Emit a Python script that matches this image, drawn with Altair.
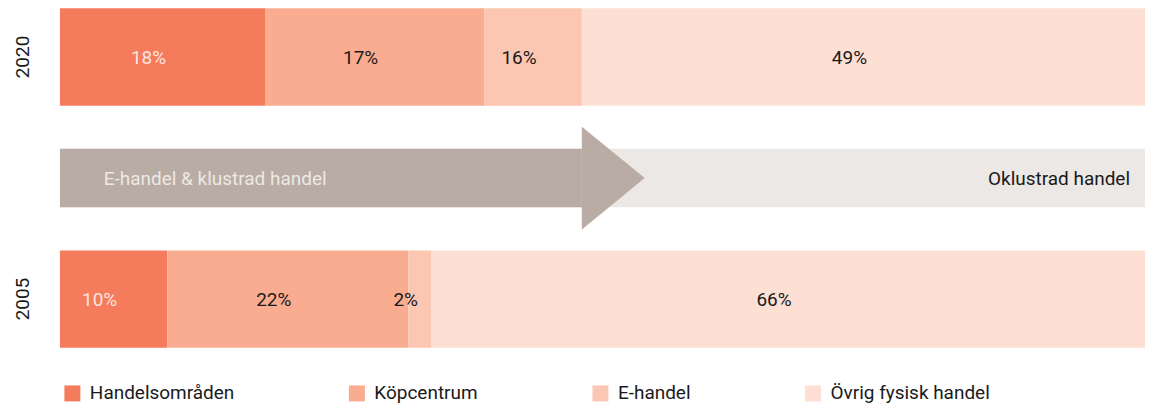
import altair as alt
import pandas as pd

# ---- data ----
years = ["2020", "2005"]
categories = ["Handelsområden", "Köpcentrum", "E-handel", "Övrig fysisk handel"]
share_2020 = [18.9, 20.2, 9.0, 51.9]      # drawn bar lengths (% of full width)
share_2005 = [9.9, 22.2, 2.1, 65.8]
labels_2020 = ["18%", "17%", "16%", "49%"]
labels_2005 = ["10%", "22%", "2%", "66%"]
colors = ["#F47B5C", "#F9AC8F", "#FBC6B2", "#FDE0D3"]

arrow_left_text = "E-handel & klustrad handel"
arrow_right_text = "Oklustrad handel"

row_order = ["2020", "mid", "2005"]

FONT = "Roboto"
DARK = "#1a1a1a"
FS = 19

# ---- tables ----
rows = []
for yr, vals, labs in [("2020", share_2020, labels_2020), ("2005", share_2005, labels_2005)]:
    start = 0.0
    for cat, v, lab in zip(categories, vals, labs):
        rows.append({"row": yr, "category": cat, "start": start, "end": start + v,
                     "mid": start + v / 2, "label": lab})
        start += v
bars_df = pd.DataFrame(rows)

arrow_end = sum(share_2020[:3])
band_df = pd.DataFrame({"row": ["mid"], "start": [0.0], "end": [100.0]})
arrow_df = pd.DataFrame({"row": ["mid"], "start": [0.0], "end": [arrow_end]})

x_scale = alt.Scale(domain=[0, 100], nice=False, zero=True)
y_enc = alt.Y(
    "row:N",
    scale=alt.Scale(domain=row_order, paddingInner=0.1955, paddingOuter=0),
    axis=alt.Axis(
        title=None, ticks=False, domain=False, labelAngle=-90,
        labelExpr="datum.value == 'mid' ? '' : datum.value",
        labelFont=FONT, labelFontSize=FS, labelColor=DARK,
        labelPadding=27, labelBaseline="bottom", labelAlign="center",
    ),
)

bars = alt.Chart(bars_df).mark_bar(strokeWidth=0).encode(
    x=alt.X("start:Q", scale=x_scale, axis=None),
    x2="end:Q",
    y=y_enc,
    color=alt.Color(
        "category:N",
        scale=alt.Scale(domain=categories, range=colors),
        sort=categories,
        legend=alt.Legend(
            title=None, orient="none", legendX=3, legendY=376,
            direction="horizontal", columns=4, columnPadding=113,
            symbolType="square", symbolSize=256, symbolStrokeWidth=0,
            labelFont=FONT, labelFontSize=FS, labelColor=DARK,
            labelOffset=8, labelLimit=0, padding=0,
        ),
    ),
)

bar_text = alt.Chart(bars_df).mark_text(
    font=FONT, fontSize=FS, dx=-14, dy=1, align="center", baseline="middle"
).encode(
    x=alt.X("mid:Q", scale=x_scale, axis=None),
    y=y_enc,
    text="label:N",
    color=alt.condition(alt.datum.category == categories[0],
                        alt.value("#FCE6DC"), alt.value(DARK)),
)

band = alt.Chart(band_df).mark_bar(height={"band": 0.6}, color="#ECE8E5").encode(
    x=alt.X("start:Q", scale=x_scale, axis=None), x2="end:Q", y=y_enc
)

arrow_body = alt.Chart(arrow_df).mark_bar(height={"band": 0.6}, color="#B8ACA4").encode(
    x=alt.X("start:Q", scale=x_scale, axis=None), x2="end:Q", y=y_enc
)

arrow_head = alt.Chart(arrow_df).mark_point(
    shape="M0,-1L1.223,0L0,1Z", filled=True, size=10609, opacity=1,
    color="#B8ACA4", strokeWidth=0
).encode(
    x=alt.X("end:Q", scale=x_scale, axis=None), y=y_enc
)

left_text = alt.Chart(arrow_df).mark_text(
    font=FONT, fontSize=FS, align="left", baseline="middle", dx=44, dy=1,
    color="#EEE8E4"
).encode(
    x=alt.X("start:Q", scale=x_scale, axis=None), y=y_enc,
    text=alt.value(arrow_left_text)
)

right_text = alt.Chart(band_df).mark_text(
    font=FONT, fontSize=FS, align="right", baseline="middle", dx=-15, dy=1,
    color=DARK
).encode(
    x=alt.X("end:Q", scale=x_scale, axis=None), y=y_enc,
    text=alt.value(arrow_right_text)
)

chart = alt.layer(
    bars, bar_text, band, arrow_body, arrow_head, left_text, right_text
).properties(
    width=1087, height=340,
    padding={"left": 52, "top": 0, "right": 0, "bottom": 58},
    autosize=alt.AutoSizeParams(type="none"),
).configure_view(stroke=None)

chart.save("out.html", embed_options={"renderer": "svg", "actions": False})
